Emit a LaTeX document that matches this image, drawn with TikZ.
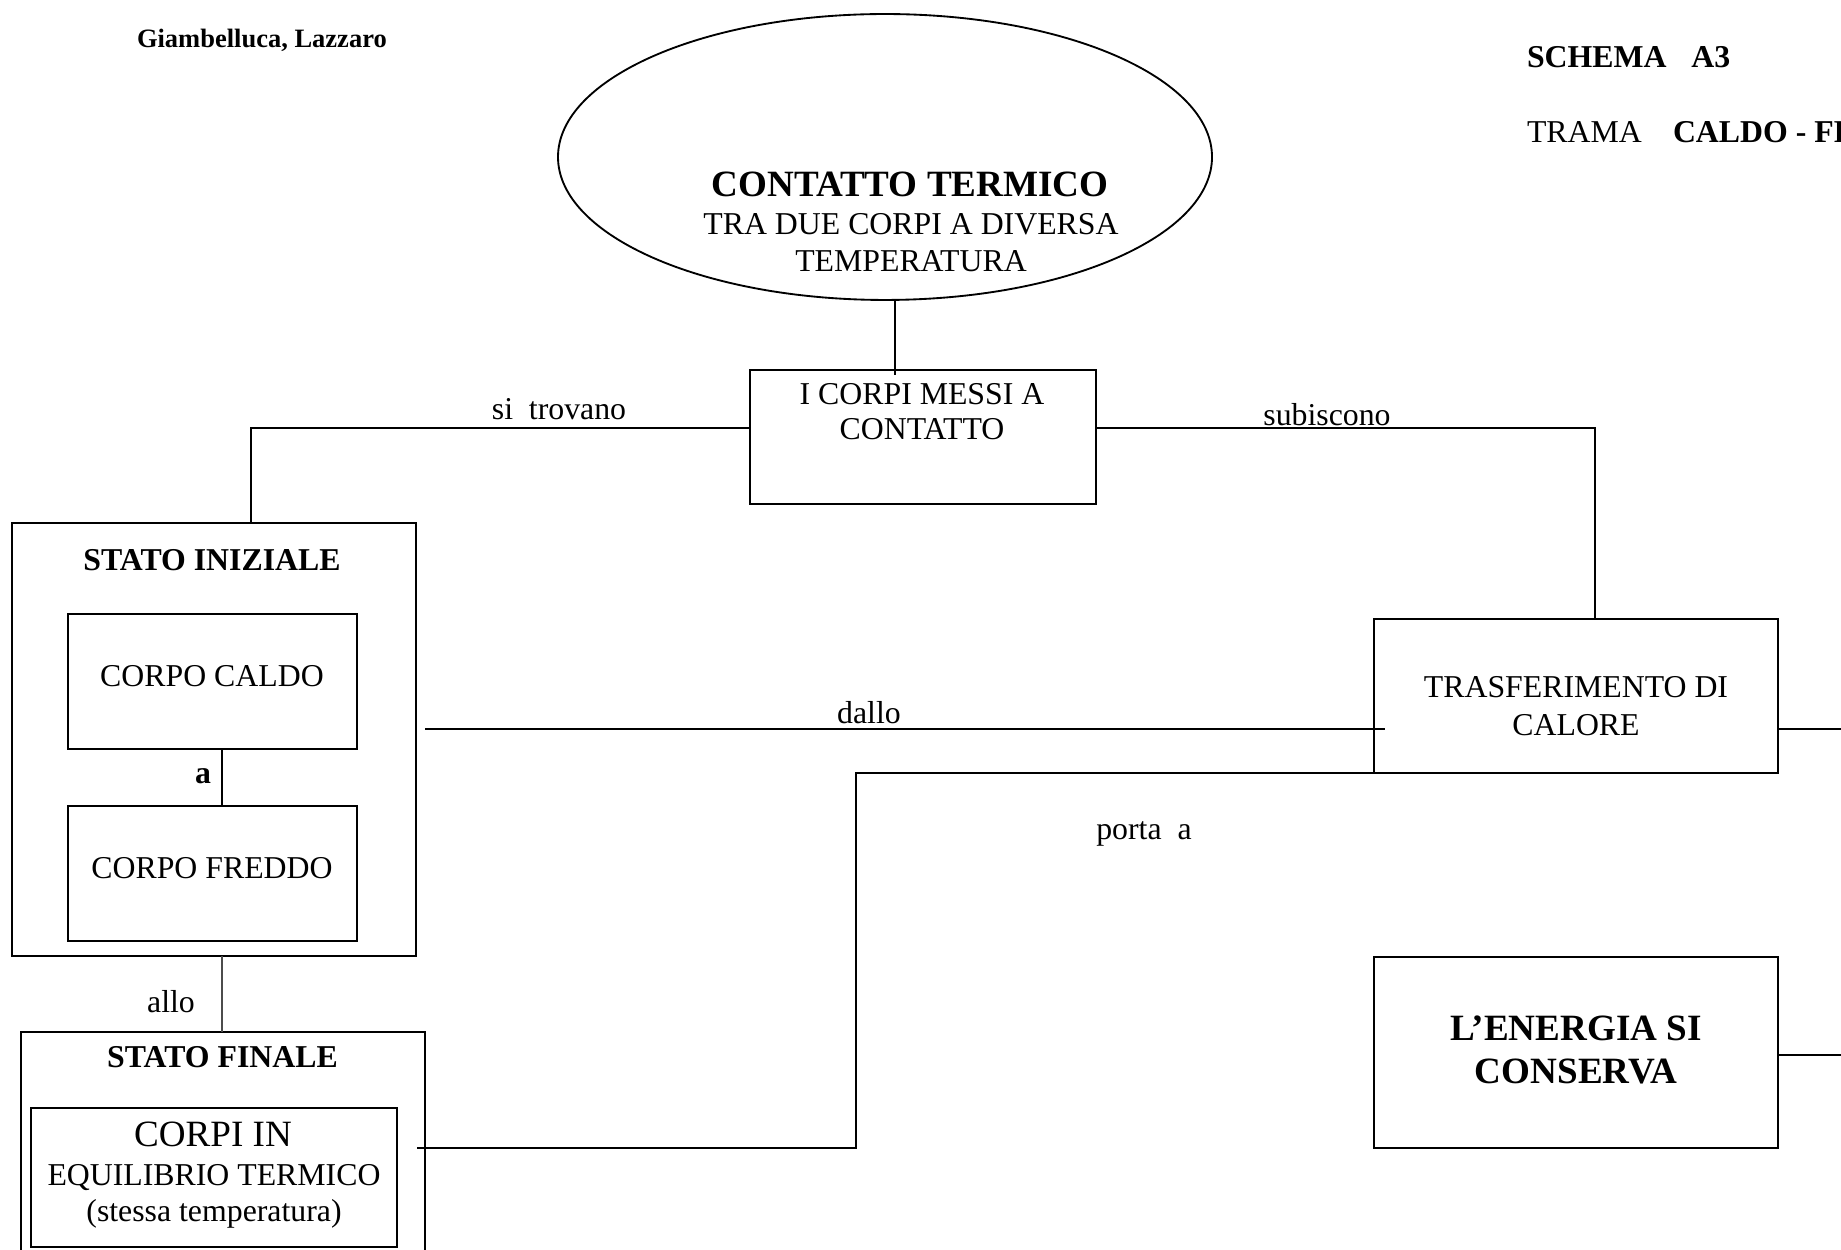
\documentclass[tikz,border=0pt]{standalone}
\usepackage{fontspec}
\setmainfont{Liberation Serif}
\usetikzlibrary{shapes.geometric,fit}

\begin{document}
\begin{tikzpicture}[
  x=0.37736pt, y=-0.37736pt,
  box/.style={draw, line width=0.9pt, inner sep=0pt, outer sep=0pt},
  conn/.style={line width=1pt},
  thinconn/.style={line width=0.4pt, black!70},
  txt/.style={inner sep=0pt, outer sep=0pt, anchor=base},
  ft10b/.style={font=\fontsize{10}{12}\selectfont\bfseries},
  ft12/.style={font=\fontsize{12}{14}\selectfont},
  ft12b/.style={font=\fontsize{12}{14}\selectfont\bfseries},
  ft14/.style={font=\fontsize{14}{16}\selectfont},
  ft14b/.style={font=\fontsize{14}{16}\selectfont\bfseries},
]
% page frame
\useasboundingbox (0,0) rectangle (1841,1250);
\clip (0,0) rectangle (1841,1250);

% header
\node[txt, anchor=base west, ft10b] (author) at (137,48) {Giambelluca, Lazzaro};
\node[txt, anchor=base west, ft12b] (schema) at (1527,68) {SCHEMA\hspace*{9.4pt}A3};
\node[txt, anchor=base west, ft12] (trama) at (1527,143) {TRAMA};
\node[txt, anchor=base west, ft12b] (tramaval) at (1673,143) {CALDO - FREDDO};

% central concept
\node[draw, ellipse, line width=0.7pt, inner sep=0pt,
      minimum width=246.8pt, minimum height=107.9pt] (ell) at (885,157) {};
\node[txt, ft14b] (ctTitle) at (910,197) {CONTATTO TERMICO};
\node[txt, ft12] (ctL1) at (911,235) {TRA DUE CORPI A DIVERSA};
\node[txt, ft12] (ctL2) at (911,272) {TEMPERATURA};

% boxes
\node[box, fit={(750,370) (1096,504)}] (icorpi) {};
\node[txt, ft12] (icorpiL1) at (922,405) {I CORPI MESSI A};
\node[txt, ft12] (icorpiL2) at (922,440) {CONTATTO};

\node[box, fit={(12,523) (416,956)}] (statoiniz) {};
\node[txt, ft12b] (statoinizT) at (212,571) {STATO INIZIALE};
\node[box, fit={(68,614) (357,749)}] (caldo) {};
\node[txt, ft12] (caldoT) at (212,686) {CORPO CALDO};
\node[box, fit={(68,806) (357,941)}] (freddo) {};
\node[txt, ft12] (freddoT) at (212,878) {CORPO FREDDO};
\node[txt, ft12b] (lblA) at (203,783) {a};

\node[box, fit={(21,1032) (425,1275)}] (statofin) {};
\node[txt, ft12b] (statofinT) at (222.5,1067) {STATO FINALE};
\node[box, fit={(31,1108) (397,1247)}] (equil) {};
\node[txt, ft14] (equilL1) at (213,1146) {CORPI IN};
\node[txt, ft12] (equilL2) at (214,1185) {EQUILIBRIO TERMICO};
\node[txt, ft12] (equilL3) at (214,1221) {(stessa temperatura)};

\node[box, fit={(1374,619) (1778,773)}] (trasf) {};
\node[txt, ft12] (trasfL1) at (1576,697) {TRASFERIMENTO DI};
\node[txt, ft12] (trasfL2) at (1576,735) {CALORE};

\node[box, fit={(1374,957) (1778,1148)}] (energia) {};
\node[txt, ft14b] (energiaL1) at (1576,1040) {L’ENERGIA SI};
\node[txt, ft14b] (energiaL2) at (1576,1083) {CONSERVA};

% routing points
\coordinate (xE) at (895,0);
\coordinate (jL) at (251,428);
\coordinate (jR) at (1595,428);
\coordinate (yD) at (0,729);
\coordinate (yE) at (0,1055);
\coordinate (xC) at (222,0);
\coordinate (bendP) at (856,773);
\coordinate (downP) at (856,1148);
\coordinate (edgeD) at (1841,729);
\coordinate (edgeE) at (1841,1055);

% connectors
\draw[conn] (ell.south -| xE) -- ([yshift=-2pt]icorpi.north -| xE);
\draw[conn] (icorpi.west |- jL) -- (jL) -- (jL |- statoiniz.north);
\draw[conn] (icorpi.east |- jR) -- (jR) -- (jR |- trasf.north);
\draw[conn, shorten <=3.4pt, shorten >=-4pt] (statoiniz.east |- yD) -- (trasf.west |- yD);
\draw[conn] (trasf.east |- yD) -- (edgeD);
\draw[conn, shorten >=-3pt] (trasf.south west) -- (bendP) -- (downP) -- (statofin.east |- downP);
\draw[conn] (energia.east |- yE) -- (edgeE);
\draw[conn] (caldo.south -| xC) -- (freddo.north -| xC);
\draw[thinconn] (statoiniz.south -| xC) -- (statofin.north -| xC);

% connector labels
\node[txt, ft12] (lblTrovano) at (559,420) {si\ \ trovano};
\node[txt, ft12] (lblSubiscono) at (1327,426) {subiscono};
\node[txt, ft12] (lblDallo) at (869,723) {dallo};
\node[txt, ft12] (lblPorta) at (1144,839) {porta\ \ a};
\node[txt, ft12] (lblAllo) at (171,1012) {allo};
\end{tikzpicture}
\end{document}
